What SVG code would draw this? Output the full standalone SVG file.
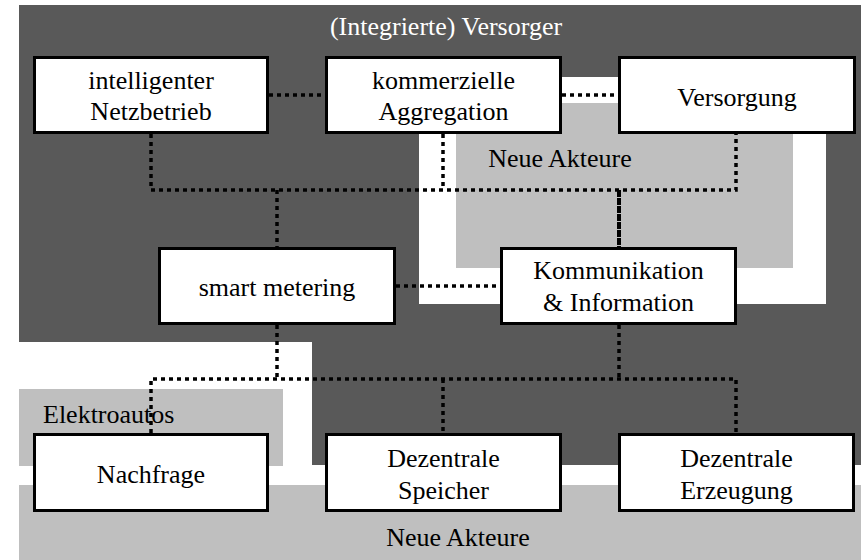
<svg xmlns="http://www.w3.org/2000/svg" width="861" height="560" viewBox="0 0 861 560">
  <style>
    .node rect { fill: #ffffff; stroke: #000000; stroke-width: 3; }
    text { font-family: "Times New Roman", "Liberation Serif", Times, serif; font-size: 26px; }
    .label { fill: #000000; text-anchor: middle; }
    .dots { fill: none; stroke: #000000; stroke-width: 3.5; stroke-dasharray: 4 4; }
    .solid { fill: none; stroke: #000000; stroke-width: 4; stroke-dasharray: 7 1; }
  </style>

  <rect width="861" height="560" fill="#ffffff"/>

  <!-- background areas -->
  <g id="areas">
    <path d="M19 5 H861 V465 H312 V342 H19 Z" fill="#595959"/>
    <rect x="419" y="77" width="407" height="227" fill="#ffffff"/>
    <rect x="456" y="103" width="337" height="165" fill="#bfbfbf"/>
    <rect x="19" y="389" width="264" height="77" fill="#bfbfbf"/>
    <rect x="19" y="485" width="842" height="75" fill="#bfbfbf"/>
    <text x="446" y="35" text-anchor="middle" fill="#ffffff">(Integrierte) Versorger</text>
    <text x="560" y="167" text-anchor="middle" fill="#000000">Neue Akteure</text>
    <text x="43" y="423" fill="#000000">Elektroautos</text>
    <text x="458" y="546" text-anchor="middle" fill="#000000">Neue Akteure</text>
  </g>

  <!-- connectors -->
  <g id="connectors">
    <line class="dots" x1="269" y1="95" x2="325" y2="95"/>
    <line class="dots" x1="562" y1="95" x2="618" y2="95"/>
    <path class="dots" d="M151 134 V190 H736 V134"/>
    <line class="dots" x1="443" y1="134" x2="443" y2="190"/>
    <line class="dots" x1="277" y1="190" x2="277" y2="247"/>
    <line class="solid" x1="619" y1="190" x2="619" y2="247"/>
    <line class="dots" x1="396" y1="286" x2="500" y2="286"/>
    <line class="dots" x1="277" y1="325" x2="277" y2="379"/>
    <line class="dots" x1="619" y1="325" x2="619" y2="379"/>
    <path class="dots" d="M151 433 V379 H736 V433"/>
    <line class="dots" x1="443" y1="379" x2="443" y2="433"/>
  </g>

  <!-- nodes -->
  <g id="netzbetrieb" class="node">
    <rect x="34.5" y="57.5" width="233" height="75"/>
    <text class="label" x="151" y="89">intelligenter</text>
    <text class="label" x="151" y="120">Netzbetrieb</text>
  </g>
  <g id="aggregation" class="node">
    <rect x="326.5" y="57.5" width="234" height="75"/>
    <text class="label" x="443.5" y="89">kommerzielle</text>
    <text class="label" x="443.5" y="120">Aggregation</text>
  </g>
  <g id="versorgung" class="node">
    <rect x="619.5" y="57.5" width="235" height="75"/>
    <text class="label" x="737" y="106">Versorgung</text>
  </g>
  <g id="smart-metering" class="node">
    <rect x="159.5" y="248.5" width="235" height="75"/>
    <text class="label" x="277" y="296">smart metering</text>
  </g>
  <g id="kommunikation" class="node">
    <rect x="501.5" y="248.5" width="234" height="75"/>
    <text class="label" x="618.5" y="279">Kommunikation</text>
    <text class="label" x="618.5" y="311">&amp; Information</text>
  </g>
  <g id="nachfrage" class="node">
    <rect x="34.5" y="434.5" width="233" height="76"/>
    <text class="label" x="151" y="483">Nachfrage</text>
  </g>
  <g id="speicher" class="node">
    <rect x="326.5" y="434.5" width="234" height="76"/>
    <text class="label" x="443.5" y="467">Dezentrale</text>
    <text class="label" x="443.5" y="499">Speicher</text>
  </g>
  <g id="erzeugung" class="node">
    <rect x="619.5" y="434.5" width="234" height="76"/>
    <text class="label" x="736.5" y="467">Dezentrale</text>
    <text class="label" x="736.5" y="499">Erzeugung</text>
  </g>
</svg>
